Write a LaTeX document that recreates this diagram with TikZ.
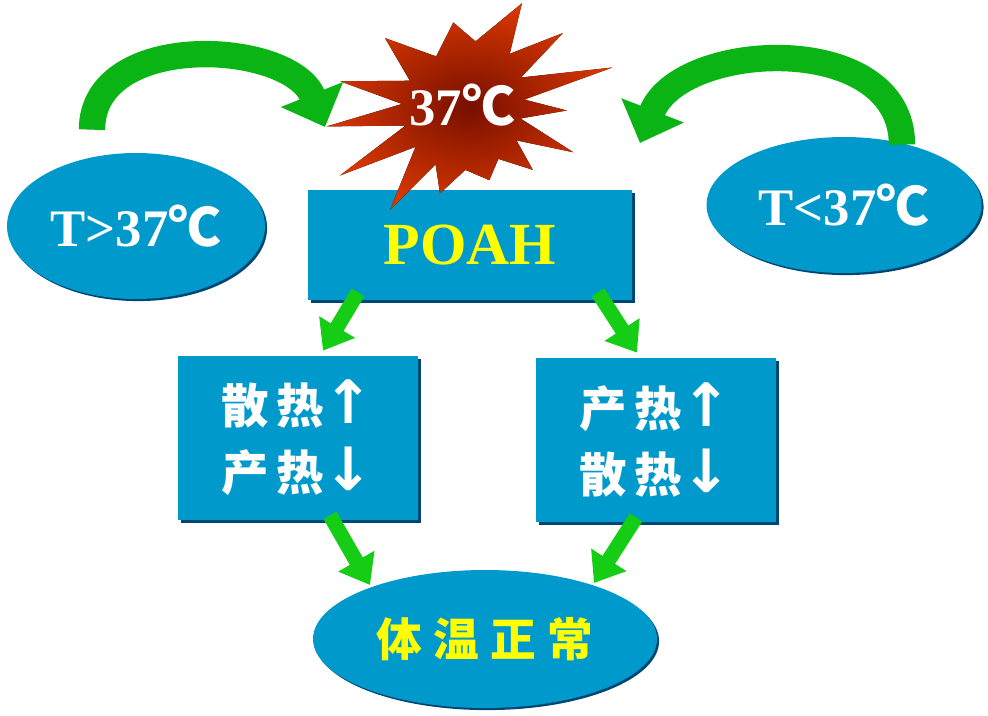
\documentclass[tikz,border=0pt]{standalone}
\usepackage{fontspec}
\setmainfont{Liberation Serif}
\newfontfamily\cjk{Noto Sans CJK SC}
\newfontfamily\symb{DejaVu Sans}
\usetikzlibrary{positioning,arrows.meta,shapes.geometric,shadows,calc}
\definecolor{poablue}{RGB}{0,153,204}
\definecolor{edgeblue}{RGB}{0,70,115}
\definecolor{arrgreen}{RGB}{20,205,20}
\definecolor{deepgreen}{RGB}{10,180,20}
\definecolor{hotred}{RGB}{215,55,0}
\definecolor{darkred}{RGB}{120,15,0}
\definecolor{textyellow}{RGB}{255,255,0}
\newcommand{\upar}{{\symb\fontsize{34}{38}\selectfont ↑}}
\newcommand{\dnar}{{\symb\fontsize{34}{38}\selectfont ↓}}
\tikzset{
  regbox/.style={fill=poablue,minimum width=4.8cm,minimum height=3.28cm,
                 align=center,text=white,font=\cjk\bfseries\fontsize{27}{38}\selectfont,
                 drop shadow={shadow xshift=1.5pt,shadow yshift=-1.5pt,fill=edgeblue,opacity=1}},
  tempell/.style={ellipse,fill=poablue,text=white,inner sep=0pt,
                  font=\bfseries\fontsize{30}{34}\selectfont,
                  drop shadow={shadow xshift=1.2pt,shadow yshift=-1.2pt,fill=edgeblue,opacity=1}},
  arr/.style={-{Triangle[width=0.8cm,length=0.55cm]},line width=8.5pt,arrgreen},
  bigarr/.style={-{Triangle[width=1.3cm,length=0.7cm]},line width=15pt,deepgreen},
}

\begin{document}
\begin{tikzpicture}[x=0.02cm,y=-0.02cm]
  \useasboundingbox (0,0) rectangle (988,716);
  % centre box
  \node[regbox,minimum width=6.48cm,minimum height=2.2cm,text=textyellow,
        font=\bfseries\fontsize{34}{38}\selectfont] (poah) at (470,245) {POAH};
  % burst
  \coordinate (sc) at (462,105);
  \begin{scope}[shift={(sc)},x=1cm,y=1cm]
    \fill[inner color=darkred,outer color=hotred] (-23:2.42)
      \foreach \a/\r in {-13/1.2,-3/2.1,5/1.25,14/3.1,25/1.3,35.5/2.48,47/1.4,59.5/2.36,
                         78/1.3,96/1.66,118/1.1,139/2.04,155/1.15,169/2.48,179/1.2,
                         189/2.74,200/1.2,210/2.82,222/1.25,235.5/2.54,246/1.3,256/1.82,
                         273/1.3,290/1.6,304/1.3,317.5/1.92,327/1.3} {-- (\a:\r)} -- cycle;
  \end{scope}
  \node[text=white,font=\bfseries\fontsize{30}{34}\selectfont] (star) at (sc) {37{\cjk ℃}};
  % temperatures
  \node[tempell,minimum width=5.16cm,minimum height=2.92cm] (hot) at (136,226) {T>37{\cjk ℃}};
  \node[tempell,minimum width=5.5cm,minimum height=2.72cm] (cold) at (844,205) {T<37{\cjk ℃}};
  % responses
  \node[regbox] (lbox) at (298,438) {散\hspace{0.15em}热\upar\\产\hspace{0.15em}热\dnar};
  \node[regbox] (rbox) at (656,440) {产\hspace{0.15em}热\upar\\散\hspace{0.15em}热\dnar};
  \node[tempell,minimum width=6.88cm,minimum height=2.76cm,text=textyellow,
        font=\cjk\bfseries\fontsize{26}{30}\selectfont] (norm) at (485,639)
        {体\hspace{0.25em}温\hspace{0.25em}正\hspace{0.25em}常};
  % arrows
  \draw[bigarr] ([xshift=-0.88cm,yshift=0.46cm]hot.north) .. controls +(0cm,2cm) and +(-0.7cm,1.74cm) .. ([xshift=-2.74cm,yshift=-0.44cm]sc);
  \draw[bigarr] ([xshift=1.16cm,yshift=-0.16cm]cold.north) .. controls +(0cm,2.3cm) and +(0.8cm,2.06cm) .. ([xshift=3.56cm,yshift=-0.76cm]sc);
  \draw[arr] ([xshift=-2.24cm,yshift=0.16cm]poah.south) -- ([xshift=0.5cm,yshift=0.1cm]lbox.north);
  \draw[arr] ([xshift=2.56cm,yshift=0.16cm]poah.south) -- ([xshift=-0.38cm,yshift=0.1cm]rbox.north);
  \draw[arr] ([xshift=0.64cm,yshift=0.1cm]lbox.south) -- ([xshift=-2.3cm,yshift=1.08cm]norm.center);
  \draw[arr] ([xshift=-0.4cm,yshift=0.1cm]rbox.south) -- ([xshift=2.18cm,yshift=1.12cm]norm.center);
\end{tikzpicture}
\end{document}
